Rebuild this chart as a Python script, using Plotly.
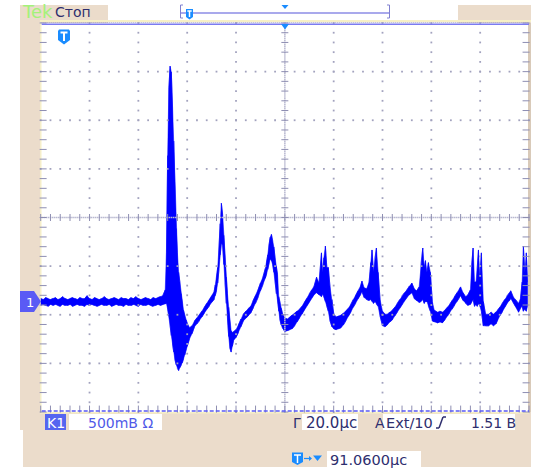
import plotly.graph_objects as go

W, H = 537, 469

# ---------------- waveform: peak-detect envelope ----------------
# time in microseconds from the left edge of the graticule, voltage in volts above the CH1 ground marker
t_us = [
    # pre-trigger baseline
    0, 1, 2, 3, 4, 5, 6, 7, 8, 9,
    10, 11, 12, 13, 14, 15, 16, 17, 18, 19,
    20, 21, 22, 23, 24, 25, 26, 27, 28, 29,
    30, 31, 32, 33, 34, 35, 36, 37, 38, 39,
    40, 41, 42, 43, 44, 45, 46, 47, 48, 49,
    50,
    # main burst
    51, 51.5, 52, 52.5, 53, 53.5, 54, 54.5, 55, 55.5,
    56, 56.5, 57, 57.5, 58, 58.5, 59, 59.5, 60, 61,
    62,
    # second and third peaks
    63, 64, 65, 66, 67, 68, 69, 70, 71, 71.5,
    72, 72.5, 73, 73.5, 74, 74.5, 75, 75.5, 76, 76.5,
    77, 77.5, 78, 78.5, 79, 80, 81, 82, 83, 84,
    85, 86, 87, 88, 89, 90, 91, 92, 92.5, 93,
    93.5, 94, 94.5, 95, 95.5, 96, 96.5, 97, 97.5, 98,
    98.5, 99, 100, 101, 102,
    # repeating ramps with spikes
    103, 104, 105, 106, 107, 108, 109, 110, 111, 112,
    113, 114, 115, 115.5, 116, 116.6, 117.2, 117.8, 118.5, 119.3,
    120, 121, 122, 123, 124, 125, 126, 127, 128, 129,
    130, 131, 131.6, 132.5, 133.5, 134.5, 135.2, 135.7, 136.3, 136.9,
    137.5, 138.2, 139, 140, 141, 142, 143, 144, 145, 146,
    147, 148, 149, 150, 151, 152, 153, 154, 155, 155.8,
    156.5, 157.1, 157.6, 158.2, 158.8, 159.6, 160.4, 161.2, 162.5, 163.5,
    164.5, 165.5, 166.6, 167.5, 168.5, 169.5, 170.5, 171.5, 172, 173,
    174, 175, 176, 176.6, 177.1, 177.7, 178.3, 178.8, 179.3, 179.9,
    180.5, 181.3, 182.2, 183.5, 184.5, 185.5, 186.5, 187.1, 188, 189,
    190, 191, 192, 192.5, 193.5, 194.5, 195.7, 196.5, 197.2, 197.7,
    198.3, 198.9, 199.4,
]
v_lo = [
    -0.04, -0.03, -0.04, -0.05, -0.03, -0.04, -0.03, -0.04, -0.05, -0.03,
    -0.04, -0.04, -0.03, -0.05, -0.04, -0.03, -0.04, -0.04, -0.05, -0.03,
    -0.04, -0.03, -0.04, -0.05, -0.04, -0.03, -0.04, -0.04, -0.03, -0.05,
    -0.04, -0.03, -0.04, -0.04, -0.05, -0.03, -0.04, -0.04, -0.03, -0.04,
    -0.05, -0.03, -0.04, -0.04, -0.03, -0.04, -0.05, -0.04, -0.03, -0.04,
    -0.03,
    -0.02, -0.02, -0.08, -0.15, -0.25, -0.35, -0.45, -0.52, -0.60, -0.65,
    -0.69, -0.71, -0.68, -0.66, -0.63, -0.59, -0.55, -0.50, -0.46, -0.38,
    -0.33,
    -0.26, -0.23, -0.20, -0.16, -0.12, -0.08, -0.05, -0.01, 0.02, 0.06,
    0.11, 0.19, 0.32, 0.48, 0.60, 0.58, 0.38, 0.18, -0.02, -0.18,
    -0.36, -0.48, -0.52, -0.46, -0.40, -0.37, -0.32, -0.26, -0.20, -0.17,
    -0.15, -0.12, -0.07, -0.02, 0.04, 0.11, 0.17, 0.24, 0.28, 0.33,
    0.39, 0.44, 0.42, 0.38, 0.30, 0.20, 0.08, 0.02, -0.10, -0.19,
    -0.24, -0.27, -0.31, -0.30, -0.29,
    -0.28, -0.25, -0.21, -0.17, -0.13, -0.08, -0.04, 0.00, 0.04, 0.07,
    0.09, 0.07, 0.05, 0.08, 0.05, 0.00, -0.05, -0.10, -0.20, -0.26,
    -0.28, -0.29, -0.28, -0.27, -0.24, -0.20, -0.15, -0.11, -0.06, -0.02,
    0.03, 0.07, 0.10, 0.04, 0.02, 0.01, 0.02, 0.00, -0.02, 0.00,
    -0.03, -0.05, -0.15, -0.25, -0.26, -0.24, -0.21, -0.19, -0.15, -0.11,
    -0.07, -0.03, 0.01, 0.04, 0.07, 0.09, 0.03, 0.01, -0.01, 0.00,
    0.02, -0.02, 0.00, 0.00, -0.05, -0.10, -0.20, -0.21, -0.22, -0.21,
    -0.22, -0.19, -0.15, -0.12, -0.08, -0.04, 0.00, 0.04, 0.06, 0.01,
    -0.02, -0.04, -0.03, 0.00, 0.02, -0.05, -0.03, -0.05, -0.02, -0.05,
    -0.10, -0.25, -0.25, -0.25, -0.23, -0.25, -0.23, -0.19, -0.15, -0.11,
    -0.06, -0.02, 0.01, 0.03, -0.01, -0.05, -0.11, -0.07, -0.05, -0.10,
    -0.08, -0.10, -0.05,
]
v_hi = [
    0.03, 0.02, 0.04, 0.03, 0.02, 0.03, 0.04, 0.02, 0.03, 0.05,
    0.03, 0.02, 0.03, 0.04, 0.03, 0.02, 0.04, 0.03, 0.03, 0.06,
    0.03, 0.02, 0.04, 0.03, 0.02, 0.03, 0.05, 0.03, 0.02, 0.03,
    0.04, 0.03, 0.02, 0.04, 0.03, 0.03, 0.02, 0.04, 0.03, 0.05,
    0.03, 0.02, 0.03, 0.04, 0.03, 0.02, 0.04, 0.03, 0.04, 0.05,
    0.06,
    0.12, 0.50, 1.50, 2.20, 2.42, 2.36, 2.00, 1.65, 1.15, 0.75,
    0.50, 0.30, 0.20, 0.08, -0.02, -0.09, -0.14, -0.19, -0.22, -0.27,
    -0.25,
    -0.20, -0.17, -0.14, -0.10, -0.06, -0.02, 0.01, 0.05, 0.10, 0.17,
    0.25, 0.35, 0.55, 0.80, 1.01, 0.90, 0.68, 0.45, 0.25, 0.08,
    -0.06, -0.22, -0.30, -0.32, -0.31, -0.29, -0.24, -0.18, -0.13, -0.10,
    -0.07, -0.05, 0.01, 0.06, 0.12, 0.19, 0.25, 0.34, 0.40, 0.48,
    0.58, 0.66, 0.69, 0.63, 0.56, 0.45, 0.36, 0.28, 0.05, -0.01,
    -0.07, -0.12, -0.17, -0.18, -0.16,
    -0.14, -0.12, -0.10, -0.08, -0.05, -0.01, 0.03, 0.08, 0.12, 0.16,
    0.25, 0.19, 0.50, 0.30, 0.45, 0.57, 0.35, 0.35, 0.15, 0.02,
    -0.12, -0.16, -0.15, -0.14, -0.12, -0.10, -0.07, -0.03, 0.02, 0.06,
    0.11, 0.16, 0.21, 0.14, 0.13, 0.20, 0.40, 0.53, 0.30, 0.45,
    0.55, 0.30, 0.02, -0.10, -0.13, -0.13, -0.11, -0.09, -0.06, -0.02,
    0.02, 0.06, 0.09, 0.12, 0.16, 0.19, 0.13, 0.11, 0.15, 0.40,
    0.55, 0.35, 0.42, 0.30, 0.40, 0.30, 0.00, -0.09, -0.11, -0.10,
    -0.11, -0.09, -0.06, -0.03, 0.01, 0.05, 0.09, 0.13, 0.15, 0.09,
    0.05, 0.07, 0.12, 0.40, 0.55, 0.20, 0.20, 0.35, 0.53, 0.25,
    0.50, 0.00, -0.13, -0.13, -0.11, -0.13, -0.11, -0.09, -0.06, -0.02,
    0.02, 0.06, 0.09, 0.11, 0.05, 0.02, -0.02, 0.03, 0.20, 0.57,
    0.30, 0.50, 0.20,
]

# ---------------- readouts ----------------
brand = "Tek"
status = "Стоп"
ch_label = "K1"
ch_scale = "500mB Ω"
time_scale = "20.0µc"
trig_src = "Ext/10"
trig_level = "1.51 B"
trig_pos = "91.0600µc"

# scope settings
N_HDIV, N_VDIV = 10, 8
US_PER_DIV = 20.0
V_PER_DIV = 0.5
GND_DIV = -1.7275          # ground marker position, divisions from screen centre

# ---------------- screen geometry (pixels) ----------------
GL, GR, GT, GB = 40.7, 529.0, 23.0, 412.0
FONT = "DejaVu Sans"
BEIGE = "#ebdccb"
NAVY = "#2e2e6e"
ICON = "#1a8cff"
PALE = "#f7f0c6"
GRID = "#a2a2be"
TRACE = "#0000ff"


def px(x):
    return x / W


def py(y):
    return 1 - y / H


shapes = []
annotations = []


def rect(x0, y0, x1, y1, color, layer="below"):
    shapes.append(dict(type="rect", xref="paper", yref="paper",
                       x0=px(x0), x1=px(x1), y0=py(y1), y1=py(y0),
                       fillcolor=color, line_width=0, layer=layer))


def seg(x0, y0, x1, y1, color, width=1.0, dash="solid", layer="above"):
    shapes.append(dict(type="line", xref="paper", yref="paper",
                       x0=px(x0), x1=px(x1), y0=py(y0), y1=py(y1),
                       line=dict(color=color, width=width, dash=dash), layer=layer))


def poly(pts, color, layer="above"):
    d = "M " + " L ".join(f"{px(x):.5f},{py(y):.5f}" for x, y in pts) + " Z"
    shapes.append(dict(type="path", xref="paper", yref="paper", path=d,
                       fillcolor=color, line_width=0, layer=layer))


def text(x, y, s, color, size=14, anchor="left"):
    annotations.append(dict(xref="paper", yref="paper", x=px(x), y=py(y), text=s,
                            showarrow=False, xanchor=anchor, yanchor="middle",
                            font=dict(family=FONT, size=size, color=color)))


# beige frame
rect(20, 5, 108, GT, BEIGE)
rect(458, 5, 531, GT, BEIGE)
rect(20, 5, GL, 430, BEIGE)
rect(GR - 1, GT, 531, GB, "#d9cab9")
rect(20, GB, 531, 430, BEIGE)
rect(23, 430, 531, 467, BEIGE)
# pale border of the graticule
rect(GL - 0.5, 20, 531, 22, PALE)
rect(GL - 0.5, 20, GL + 0.8, GB + 1.5, PALE)
rect(GL - 0.5, GB, GR, GB + 1.5, PALE)

# readout boxes
rect(45, 414, 66, 430, "#5565f0")
rect(69, 414, 162, 430, "white")
rect(302, 414, 358, 430, "white")
rect(383, 414, 515, 430, "white")
rect(327, 451, 421, 467, "white")

# top timebase indicator
seg(180.5, 5, 180.5, 18, "#8080d0", 1)
seg(180.5, 5, 183, 5, "#8080d0", 1)
seg(180.5, 18, 183, 18, "#8080d0", 1)
seg(181, 13, 389, 13, "#8c8ce6", 1.5)
seg(389.5, 5, 389.5, 18, "#8080d0", 1)
seg(387, 5, 389.5, 5, "#8080d0", 1)
seg(387, 18, 389.5, 18, "#8080d0", 1)
poly([(186, 9), (193, 9), (193, 17), (189.5, 19.5), (186, 17)], ICON)
seg(187.3, 11, 191.7, 11, "white", 1.5)
seg(189.5, 11, 189.5, 17, "white", 1.5)
poly([(281.5, 5), (288.5, 5), (285, 9)], ICON)

# graticule top / bottom borders
seg(GL, 22.6, GR, 22.6, "#a0a0c0", 1, dash="1px,1px")
seg(GL + 1, 24.2, GR, 24.2, "#7b7bf0", 1.5)
seg(GL + 1, GB - 1, GR, GB - 1, "#5a5af5", 1.5, dash="4px,2px")
poly([(281, 24), (289, 24), (285, 29.5)], ICON)

# T icon in graticule
poly([(58, 31), (59, 29.5), (69, 29.5), (70, 31), (70, 40), (64, 44.5), (58, 40)], ICON)
seg(60.5, 32.5, 67.5, 32.5, "white", 2)
seg(64, 32.5, 64, 41, "white", 2)

# CH1 ground marker
poly([(20, 291), (34, 291), (41, 301.5), (34, 312), (20, 312)], "#5a5af5")
text(29.5, 302, "1", "white", 13, "center")

# bottom readouts
text(55.5, 422.5, ch_label, "white", 14, "center")
text(86, 422.5, ch_scale, "#4f5ae8", 14)
text(291, 422.5, "Γ", NAVY, 14)
text(304, 422.5, time_scale, NAVY, 15)
text(373, 422.5, "A", NAVY, 14)
text(384, 422.5, trig_src, NAVY, 14.5)
seg(436, 428, 439, 428, NAVY, 1.5)
seg(439, 428, 443, 417, NAVY, 1.5)
seg(443, 417, 446, 417, NAVY, 1.5)
text(469, 422.5, trig_level, NAVY, 14)
poly([(292, 452.5), (303, 452.5), (303, 462), (297.5, 465), (292, 462)], ICON)
seg(294, 455, 301, 455, "white", 1.5)
seg(297.5, 455, 297.5, 463, "white", 1.5)
seg(304, 458.5, 311, 458.5, ICON, 1.2)
poly([(309, 456), (312, 458.5), (309, 461)], ICON)
poly([(313, 455.5), (322, 455.5), (317.5, 461)], ICON)
text(328, 459.5, trig_pos, NAVY, 14.5)

# top status
text(20, 12, brand, "#a4f27a", 18)
text(53, 12, status, NAVY, 14)

fig = go.Figure()

# ---------------- graticule (in division units on overlay axes) ----------------
dx, dy = [], []
for i in range(-N_HDIV // 2 + 1, N_HDIV // 2):
    if i == 0:
        continue
    for k in range(5 * N_VDIV + 1):
        dx.append(i)
        dy.append(-N_VDIV / 2 + 0.2 * k)
for j in range(-N_VDIV // 2 + 1, N_VDIV // 2):
    if j == 0:
        continue
    for k in range(5 * N_HDIV + 1):
        dx.append(-N_HDIV / 2 + 0.2 * k)
        dy.append(j)
fig.add_trace(go.Scatter(x=dx, y=dy, xaxis="x2", yaxis="y2", mode="markers",
                         marker=dict(symbol="square", size=1.8, color=GRID, line_width=0),
                         hoverinfo="skip", cliponaxis=False))
# centre cross fine dots
cx = [0] * (25 * N_VDIV + 1) + [-N_HDIV / 2 + 0.04 * k for k in range(25 * N_HDIV + 1)]
cy = [-N_VDIV / 2 + 0.04 * k for k in range(25 * N_VDIV + 1)] + [0] * (25 * N_HDIV + 1)
fig.add_trace(go.Scatter(x=cx, y=cy, xaxis="x2", yaxis="y2", mode="markers",
                         marker=dict(symbol="square", size=1.5, color="#b8b8d0", line_width=0),
                         hoverinfo="skip", cliponaxis=False))
# ticks on centre lines and borders
ew_x, ew_y, ns_x, ns_y = [], [], [], []
for k in range(5 * N_VDIV + 1):
    yv = -N_VDIV / 2 + 0.2 * k
    for xv in (0, -N_HDIV / 2 + 0.05, N_HDIV / 2 - 0.06):
        ew_x.append(xv)
        ew_y.append(yv)
for k in range(5 * N_HDIV + 1):
    xv = -N_HDIV / 2 + 0.2 * k
    for yv in (0, -N_VDIV / 2 + 0.06):
        ns_x.append(xv)
        ns_y.append(yv)
fig.add_trace(go.Scatter(x=ew_x, y=ew_y, xaxis="x2", yaxis="y2", mode="markers",
                         marker=dict(symbol="line-ew", size=5, line=dict(color="#8e8eb2", width=1)),
                         hoverinfo="skip", cliponaxis=False))
fig.add_trace(go.Scatter(x=ns_x, y=ns_y, xaxis="x2", yaxis="y2", mode="markers",
                         marker=dict(symbol="line-ns", size=5, line=dict(color="#8e8eb2", width=1)),
                         hoverinfo="skip", cliponaxis=False))

# ---------------- waveform: filled min/max envelope plus min/max strokes ----------------
fig.add_trace(go.Scatter(x=t_us, y=v_hi, mode="lines",
                         line=dict(color=TRACE, width=0.5), hoverinfo="skip"))
fig.add_trace(go.Scatter(x=t_us, y=v_lo, mode="lines", fill="tonexty", fillcolor=TRACE,
                         line=dict(color=TRACE, width=0.5), hoverinfo="skip"))
wx, wy = [], []
for i, (t, lo, hi) in enumerate(zip(t_us, v_lo, v_hi)):
    wx += [t, t]
    wy += [lo, hi] if i % 2 == 0 else [hi, lo]
fig.add_trace(go.Scatter(x=wx, y=wy, mode="lines",
                         line=dict(color=TRACE, width=0.6), hoverinfo="skip"))

xdom = [px(GL), px(GR)]
ydom = [py(GB), py(GT)]
v_min = (-N_VDIV / 2 - GND_DIV) * V_PER_DIV
v_max = (N_VDIV / 2 - GND_DIV) * V_PER_DIV

fig.update_layout(
    width=W, height=H, autosize=False,
    margin=dict(l=0, r=0, t=0, b=0, pad=0),
    paper_bgcolor="white", plot_bgcolor="rgba(0,0,0,0)",
    showlegend=False,
    xaxis=dict(domain=xdom, range=[0, N_HDIV * US_PER_DIV], visible=False, fixedrange=True),
    yaxis=dict(domain=ydom, range=[v_min, v_max], visible=False, fixedrange=True),
    xaxis2=dict(overlaying="x", range=[-N_HDIV / 2, N_HDIV / 2], visible=False),
    yaxis2=dict(overlaying="y", range=[-N_VDIV / 2, N_VDIV / 2], visible=False),
    shapes=shapes,
    annotations=annotations,
)

fig.write_html("out.html", config={"displayModeBar": False})
